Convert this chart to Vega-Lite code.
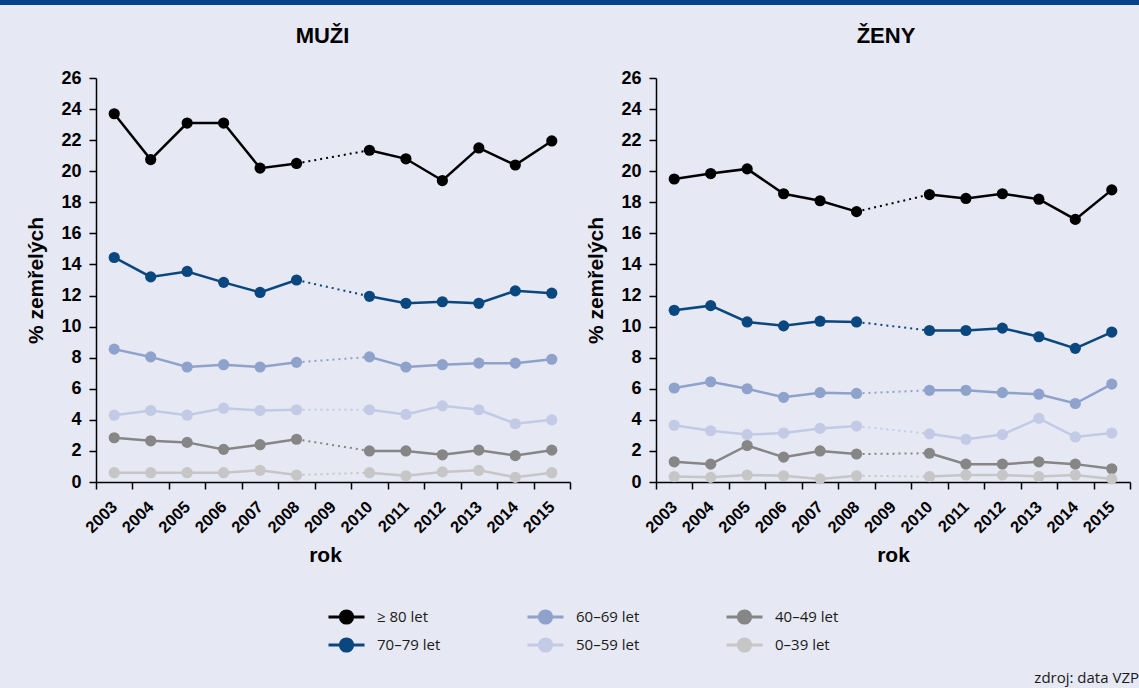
{
"$schema": "https://vega.github.io/schema/vega-lite/v6.json",
"background": "#e6e8f4",
"padding": {"left": -7, "top": 0, "right": 0, "bottom": 4},
"config": {
  "view": {"stroke": null},
  "font": "Liberation Sans",
  "title": {"font": "Liberation Sans", "fontSize": 22, "fontWeight": "bold", "color": "#000000", "anchor": "middle", "frame": "group"},
  "axis": {"grid": false, "domainColor": "#000000", "tickColor": "#000000", "domainWidth": 1.5, "tickWidth": 1.5, "labelColor": "#000000", "titleColor": "#000000", "labelFont": "Liberation Sans", "titleFont": "Liberation Sans", "labelFontWeight": "bold", "titleFontWeight": "bold", "labelOverlap": false, "labelFlush": false}
},
"title": {"text": "zdroj: data VZP", "orient": "bottom", "anchor": "end", "frame": "bounds", "font": "Open Sans", "fontSize": 15, "fontWeight": "normal", "color": "#1a1a1a", "offset": 16, "dx": -6},
"datasets": {
"d": [
{"s":"MUŽI","y":"2003","g":"≥ 80 let","v":23.7,"p":"a"},
{"s":"MUŽI","y":"2004","g":"≥ 80 let","v":20.75,"p":"a"},
{"s":"MUŽI","y":"2005","g":"≥ 80 let","v":23.1,"p":"a"},
{"s":"MUŽI","y":"2006","g":"≥ 80 let","v":23.1,"p":"a"},
{"s":"MUŽI","y":"2007","g":"≥ 80 let","v":20.2,"p":"a"},
{"s":"MUŽI","y":"2008","g":"≥ 80 let","v":20.5,"p":"a"},
{"s":"MUŽI","y":"2010","g":"≥ 80 let","v":21.35,"p":"b"},
{"s":"MUŽI","y":"2011","g":"≥ 80 let","v":20.8,"p":"b"},
{"s":"MUŽI","y":"2012","g":"≥ 80 let","v":19.4,"p":"b"},
{"s":"MUŽI","y":"2013","g":"≥ 80 let","v":21.5,"p":"b"},
{"s":"MUŽI","y":"2014","g":"≥ 80 let","v":20.4,"p":"b"},
{"s":"MUŽI","y":"2015","g":"≥ 80 let","v":21.95,"p":"b"},
{"s":"MUŽI","y":"2003","g":"70–79 let","v":14.45,"p":"a"},
{"s":"MUŽI","y":"2004","g":"70–79 let","v":13.2,"p":"a"},
{"s":"MUŽI","y":"2005","g":"70–79 let","v":13.55,"p":"a"},
{"s":"MUŽI","y":"2006","g":"70–79 let","v":12.85,"p":"a"},
{"s":"MUŽI","y":"2007","g":"70–79 let","v":12.2,"p":"a"},
{"s":"MUŽI","y":"2008","g":"70–79 let","v":13.0,"p":"a"},
{"s":"MUŽI","y":"2010","g":"70–79 let","v":11.95,"p":"b"},
{"s":"MUŽI","y":"2011","g":"70–79 let","v":11.5,"p":"b"},
{"s":"MUŽI","y":"2012","g":"70–79 let","v":11.6,"p":"b"},
{"s":"MUŽI","y":"2013","g":"70–79 let","v":11.5,"p":"b"},
{"s":"MUŽI","y":"2014","g":"70–79 let","v":12.3,"p":"b"},
{"s":"MUŽI","y":"2015","g":"70–79 let","v":12.15,"p":"b"},
{"s":"MUŽI","y":"2003","g":"60–69 let","v":8.55,"p":"a"},
{"s":"MUŽI","y":"2004","g":"60–69 let","v":8.05,"p":"a"},
{"s":"MUŽI","y":"2005","g":"60–69 let","v":7.4,"p":"a"},
{"s":"MUŽI","y":"2006","g":"60–69 let","v":7.55,"p":"a"},
{"s":"MUŽI","y":"2007","g":"60–69 let","v":7.4,"p":"a"},
{"s":"MUŽI","y":"2008","g":"60–69 let","v":7.7,"p":"a"},
{"s":"MUŽI","y":"2010","g":"60–69 let","v":8.05,"p":"b"},
{"s":"MUŽI","y":"2011","g":"60–69 let","v":7.4,"p":"b"},
{"s":"MUŽI","y":"2012","g":"60–69 let","v":7.55,"p":"b"},
{"s":"MUŽI","y":"2013","g":"60–69 let","v":7.65,"p":"b"},
{"s":"MUŽI","y":"2014","g":"60–69 let","v":7.65,"p":"b"},
{"s":"MUŽI","y":"2015","g":"60–69 let","v":7.9,"p":"b"},
{"s":"MUŽI","y":"2003","g":"50–59 let","v":4.3,"p":"a"},
{"s":"MUŽI","y":"2004","g":"50–59 let","v":4.6,"p":"a"},
{"s":"MUŽI","y":"2005","g":"50–59 let","v":4.3,"p":"a"},
{"s":"MUŽI","y":"2006","g":"50–59 let","v":4.75,"p":"a"},
{"s":"MUŽI","y":"2007","g":"50–59 let","v":4.6,"p":"a"},
{"s":"MUŽI","y":"2008","g":"50–59 let","v":4.65,"p":"a"},
{"s":"MUŽI","y":"2010","g":"50–59 let","v":4.65,"p":"b"},
{"s":"MUŽI","y":"2011","g":"50–59 let","v":4.35,"p":"b"},
{"s":"MUŽI","y":"2012","g":"50–59 let","v":4.9,"p":"b"},
{"s":"MUŽI","y":"2013","g":"50–59 let","v":4.65,"p":"b"},
{"s":"MUŽI","y":"2014","g":"50–59 let","v":3.75,"p":"b"},
{"s":"MUŽI","y":"2015","g":"50–59 let","v":4.0,"p":"b"},
{"s":"MUŽI","y":"2003","g":"40–49 let","v":2.85,"p":"a"},
{"s":"MUŽI","y":"2004","g":"40–49 let","v":2.65,"p":"a"},
{"s":"MUŽI","y":"2005","g":"40–49 let","v":2.55,"p":"a"},
{"s":"MUŽI","y":"2006","g":"40–49 let","v":2.1,"p":"a"},
{"s":"MUŽI","y":"2007","g":"40–49 let","v":2.4,"p":"a"},
{"s":"MUŽI","y":"2008","g":"40–49 let","v":2.75,"p":"a"},
{"s":"MUŽI","y":"2010","g":"40–49 let","v":2.0,"p":"b"},
{"s":"MUŽI","y":"2011","g":"40–49 let","v":2.0,"p":"b"},
{"s":"MUŽI","y":"2012","g":"40–49 let","v":1.75,"p":"b"},
{"s":"MUŽI","y":"2013","g":"40–49 let","v":2.05,"p":"b"},
{"s":"MUŽI","y":"2014","g":"40–49 let","v":1.7,"p":"b"},
{"s":"MUŽI","y":"2015","g":"40–49 let","v":2.05,"p":"b"},
{"s":"MUŽI","y":"2003","g":"0–39 let","v":0.6,"p":"a"},
{"s":"MUŽI","y":"2004","g":"0–39 let","v":0.6,"p":"a"},
{"s":"MUŽI","y":"2005","g":"0–39 let","v":0.6,"p":"a"},
{"s":"MUŽI","y":"2006","g":"0–39 let","v":0.6,"p":"a"},
{"s":"MUŽI","y":"2007","g":"0–39 let","v":0.75,"p":"a"},
{"s":"MUŽI","y":"2008","g":"0–39 let","v":0.45,"p":"a"},
{"s":"MUŽI","y":"2010","g":"0–39 let","v":0.6,"p":"b"},
{"s":"MUŽI","y":"2011","g":"0–39 let","v":0.4,"p":"b"},
{"s":"MUŽI","y":"2012","g":"0–39 let","v":0.65,"p":"b"},
{"s":"MUŽI","y":"2013","g":"0–39 let","v":0.75,"p":"b"},
{"s":"MUŽI","y":"2014","g":"0–39 let","v":0.3,"p":"b"},
{"s":"MUŽI","y":"2015","g":"0–39 let","v":0.6,"p":"b"},
{"s":"ŽENY","y":"2003","g":"≥ 80 let","v":19.5,"p":"a"},
{"s":"ŽENY","y":"2004","g":"≥ 80 let","v":19.85,"p":"a"},
{"s":"ŽENY","y":"2005","g":"≥ 80 let","v":20.15,"p":"a"},
{"s":"ŽENY","y":"2006","g":"≥ 80 let","v":18.55,"p":"a"},
{"s":"ŽENY","y":"2007","g":"≥ 80 let","v":18.1,"p":"a"},
{"s":"ŽENY","y":"2008","g":"≥ 80 let","v":17.4,"p":"a"},
{"s":"ŽENY","y":"2010","g":"≥ 80 let","v":18.5,"p":"b"},
{"s":"ŽENY","y":"2011","g":"≥ 80 let","v":18.25,"p":"b"},
{"s":"ŽENY","y":"2012","g":"≥ 80 let","v":18.55,"p":"b"},
{"s":"ŽENY","y":"2013","g":"≥ 80 let","v":18.2,"p":"b"},
{"s":"ŽENY","y":"2014","g":"≥ 80 let","v":16.9,"p":"b"},
{"s":"ŽENY","y":"2015","g":"≥ 80 let","v":18.8,"p":"b"},
{"s":"ŽENY","y":"2003","g":"70–79 let","v":11.05,"p":"a"},
{"s":"ŽENY","y":"2004","g":"70–79 let","v":11.35,"p":"a"},
{"s":"ŽENY","y":"2005","g":"70–79 let","v":10.3,"p":"a"},
{"s":"ŽENY","y":"2006","g":"70–79 let","v":10.05,"p":"a"},
{"s":"ŽENY","y":"2007","g":"70–79 let","v":10.35,"p":"a"},
{"s":"ŽENY","y":"2008","g":"70–79 let","v":10.3,"p":"a"},
{"s":"ŽENY","y":"2010","g":"70–79 let","v":9.75,"p":"b"},
{"s":"ŽENY","y":"2011","g":"70–79 let","v":9.75,"p":"b"},
{"s":"ŽENY","y":"2012","g":"70–79 let","v":9.9,"p":"b"},
{"s":"ŽENY","y":"2013","g":"70–79 let","v":9.35,"p":"b"},
{"s":"ŽENY","y":"2014","g":"70–79 let","v":8.6,"p":"b"},
{"s":"ŽENY","y":"2015","g":"70–79 let","v":9.65,"p":"b"},
{"s":"ŽENY","y":"2003","g":"60–69 let","v":6.05,"p":"a"},
{"s":"ŽENY","y":"2004","g":"60–69 let","v":6.45,"p":"a"},
{"s":"ŽENY","y":"2005","g":"60–69 let","v":6.0,"p":"a"},
{"s":"ŽENY","y":"2006","g":"60–69 let","v":5.45,"p":"a"},
{"s":"ŽENY","y":"2007","g":"60–69 let","v":5.75,"p":"a"},
{"s":"ŽENY","y":"2008","g":"60–69 let","v":5.7,"p":"a"},
{"s":"ŽENY","y":"2010","g":"60–69 let","v":5.9,"p":"b"},
{"s":"ŽENY","y":"2011","g":"60–69 let","v":5.9,"p":"b"},
{"s":"ŽENY","y":"2012","g":"60–69 let","v":5.75,"p":"b"},
{"s":"ŽENY","y":"2013","g":"60–69 let","v":5.65,"p":"b"},
{"s":"ŽENY","y":"2014","g":"60–69 let","v":5.05,"p":"b"},
{"s":"ŽENY","y":"2015","g":"60–69 let","v":6.3,"p":"b"},
{"s":"ŽENY","y":"2003","g":"50–59 let","v":3.65,"p":"a"},
{"s":"ŽENY","y":"2004","g":"50–59 let","v":3.3,"p":"a"},
{"s":"ŽENY","y":"2005","g":"50–59 let","v":3.05,"p":"a"},
{"s":"ŽENY","y":"2006","g":"50–59 let","v":3.15,"p":"a"},
{"s":"ŽENY","y":"2007","g":"50–59 let","v":3.45,"p":"a"},
{"s":"ŽENY","y":"2008","g":"50–59 let","v":3.6,"p":"a"},
{"s":"ŽENY","y":"2010","g":"50–59 let","v":3.1,"p":"b"},
{"s":"ŽENY","y":"2011","g":"50–59 let","v":2.75,"p":"b"},
{"s":"ŽENY","y":"2012","g":"50–59 let","v":3.05,"p":"b"},
{"s":"ŽENY","y":"2013","g":"50–59 let","v":4.1,"p":"b"},
{"s":"ŽENY","y":"2014","g":"50–59 let","v":2.9,"p":"b"},
{"s":"ŽENY","y":"2015","g":"50–59 let","v":3.15,"p":"b"},
{"s":"ŽENY","y":"2003","g":"40–49 let","v":1.3,"p":"a"},
{"s":"ŽENY","y":"2004","g":"40–49 let","v":1.15,"p":"a"},
{"s":"ŽENY","y":"2005","g":"40–49 let","v":2.35,"p":"a"},
{"s":"ŽENY","y":"2006","g":"40–49 let","v":1.6,"p":"a"},
{"s":"ŽENY","y":"2007","g":"40–49 let","v":2.0,"p":"a"},
{"s":"ŽENY","y":"2008","g":"40–49 let","v":1.8,"p":"a"},
{"s":"ŽENY","y":"2010","g":"40–49 let","v":1.85,"p":"b"},
{"s":"ŽENY","y":"2011","g":"40–49 let","v":1.15,"p":"b"},
{"s":"ŽENY","y":"2012","g":"40–49 let","v":1.15,"p":"b"},
{"s":"ŽENY","y":"2013","g":"40–49 let","v":1.3,"p":"b"},
{"s":"ŽENY","y":"2014","g":"40–49 let","v":1.15,"p":"b"},
{"s":"ŽENY","y":"2015","g":"40–49 let","v":0.85,"p":"b"},
{"s":"ŽENY","y":"2003","g":"0–39 let","v":0.35,"p":"a"},
{"s":"ŽENY","y":"2004","g":"0–39 let","v":0.3,"p":"a"},
{"s":"ŽENY","y":"2005","g":"0–39 let","v":0.45,"p":"a"},
{"s":"ŽENY","y":"2006","g":"0–39 let","v":0.4,"p":"a"},
{"s":"ŽENY","y":"2007","g":"0–39 let","v":0.2,"p":"a"},
{"s":"ŽENY","y":"2008","g":"0–39 let","v":0.4,"p":"a"},
{"s":"ŽENY","y":"2010","g":"0–39 let","v":0.35,"p":"b"},
{"s":"ŽENY","y":"2011","g":"0–39 let","v":0.45,"p":"b"},
{"s":"ŽENY","y":"2012","g":"0–39 let","v":0.45,"p":"b"},
{"s":"ŽENY","y":"2013","g":"0–39 let","v":0.35,"p":"b"},
{"s":"ŽENY","y":"2014","g":"0–39 let","v":0.45,"p":"b"},
{"s":"ŽENY","y":"2015","g":"0–39 let","v":0.2,"p":"b"}
]
},
"spacing": 20,
"vconcat": [
{
  "width": 1146, "height": 5,
  "view": {"fill": "#07418b", "stroke": null},
  "data": {"values": [{}]},
  "mark": {"type": "rect", "color": "#07418b"},
  "encoding": {}
},
{
  "spacing": 0,
  "data": {"name": "d"},
  "hconcat": [
  {
    "width": 571, "height": 404,
    "title": {"text": "MUŽI", "dx": 38, "offset": 21},
    "transform": [{"filter": {"field": "s", "equal": "MUŽI"}}],
    "encoding": {
      "x": {"field": "y", "type": "ordinal", "bandPosition": 0.5,
        "scale": {"type": "band", "domain": ["2003","2004","2005","2006","2007","2008","2009","2010","2011","2012","2013","2014","2015"], "range": [97, 571], "paddingInner": 0, "paddingOuter": 0},
        "axis": {"title": "rok", "tickBand": "extent", "labelAngle": -45, "labelAlign": "right", "labelBaseline": "middle", "labelPadding": 15, "tickSize": 7, "labelFontSize": 16.5, "titleFontSize": 21, "titlePadding": 9, "titleX": 326}},
      "y": {"field": "v", "type": "quantitative",
        "scale": {"domain": [0, 26], "nice": false},
        "axis": {"title": "% zemřelých", "offset": -97, "values": [0,2,4,6,8,10,12,14,16,18,20,22,24,26], "tickSize": 7, "labelPadding": 8, "labelFontSize": 18, "titleFontSize": 21, "titleX": -60, "titleY": 202, "titleBaseline": "middle", "titleAngle": 270}},
      "color": {"field": "g", "type": "nominal",
        "scale": {"domain": ["≥ 80 let","60–69 let","40–49 let","70–79 let","50–59 let","0–39 let"], "range": ["#000000","#8ea2cb","#868686","#0a477e","#c2cae5","#c6c6c6"]},
        "legend": {"title": null, "orient": "none", "legendX": 328, "legendY": 607, "columns": 3, "direction": "horizontal", "columnPadding": 85, "rowPadding": 8, "clipHeight": 20, "symbolSize": 1296, "symbolType": "M-1,0L1,0M-0.34,0A0.34,0.34,0,1,0,0.34,0A0.34,0.34,0,1,0,-0.34,0Z", "symbolStrokeWidth": 3, "labelFont": "Open Sans", "labelFontSize": 15, "labelColor": "#1a1a1a", "labelOffset": 11,
          "encode": {"symbols": {"update": {"fill": {"scale": "color", "field": "value"}, "stroke": {"scale": "color", "field": "value"}, "strokeWidth": {"value": 3}, "opacity": {"value": 1}}}}}}
    },
    "layer": [
      {"mark": {"type": "line", "strokeWidth": 2.5}, "encoding": {"detail": {"field": "p"}}},
      {"transform": [{"filter": {"field": "y", "oneOf": ["2008","2010"]}}], "mark": {"type": "line", "strokeWidth": 2, "strokeDash": [2,4]}, "encoding": {}},
      {"mark": {"type": "point", "filled": true, "size": 125, "opacity": 1}, "encoding": {}}
    ]
  },
  {
    "width": 474, "height": 404,
    "title": {"text": "ŽENY", "dx": -7, "offset": 21},
    "transform": [{"filter": {"field": "s", "equal": "ŽENY"}}],
    "encoding": {
      "x": {"field": "y", "type": "ordinal", "bandPosition": 0.5,
        "scale": {"type": "band", "domain": ["2003","2004","2005","2006","2007","2008","2009","2010","2011","2012","2013","2014","2015"], "paddingInner": 0, "paddingOuter": 0},
        "axis": {"title": "rok", "tickBand": "extent", "labelAngle": -45, "labelAlign": "right", "labelBaseline": "middle", "labelPadding": 15, "tickSize": 7, "labelFontSize": 16.5, "titleFontSize": 21, "titlePadding": 9}},
      "y": {"field": "v", "type": "quantitative",
        "scale": {"domain": [0, 26], "nice": false},
        "axis": {"title": "% zemřelých", "values": [0,2,4,6,8,10,12,14,16,18,20,22,24,26], "tickSize": 7, "labelPadding": 8, "labelFontSize": 18, "titleFontSize": 21, "titleX": -60, "titleY": 202, "titleBaseline": "middle", "titleAngle": 270, "minExtent": 85}},
      "color": {"field": "g", "type": "nominal",
        "scale": {"domain": ["≥ 80 let","60–69 let","40–49 let","70–79 let","50–59 let","0–39 let"], "range": ["#000000","#8ea2cb","#868686","#0a477e","#c2cae5","#c6c6c6"]},
        "legend": {"title": null, "orient": "none", "legendX": 328, "legendY": 607, "columns": 3, "direction": "horizontal", "columnPadding": 85, "rowPadding": 8, "clipHeight": 20, "symbolSize": 1296, "symbolType": "M-1,0L1,0M-0.34,0A0.34,0.34,0,1,0,0.34,0A0.34,0.34,0,1,0,-0.34,0Z", "symbolStrokeWidth": 3, "labelFont": "Open Sans", "labelFontSize": 15, "labelColor": "#1a1a1a", "labelOffset": 11,
          "encode": {"symbols": {"update": {"fill": {"scale": "color", "field": "value"}, "stroke": {"scale": "color", "field": "value"}, "strokeWidth": {"value": 3}, "opacity": {"value": 1}}}}}}
    },
    "layer": [
      {"mark": {"type": "line", "strokeWidth": 2.5}, "encoding": {"detail": {"field": "p"}}},
      {"transform": [{"filter": {"field": "y", "oneOf": ["2008","2010"]}}], "mark": {"type": "line", "strokeWidth": 2, "strokeDash": [2,4]}, "encoding": {}},
      {"mark": {"type": "point", "filled": true, "size": 125, "opacity": 1}, "encoding": {}}
    ]
  }
  ]
}
]
}
